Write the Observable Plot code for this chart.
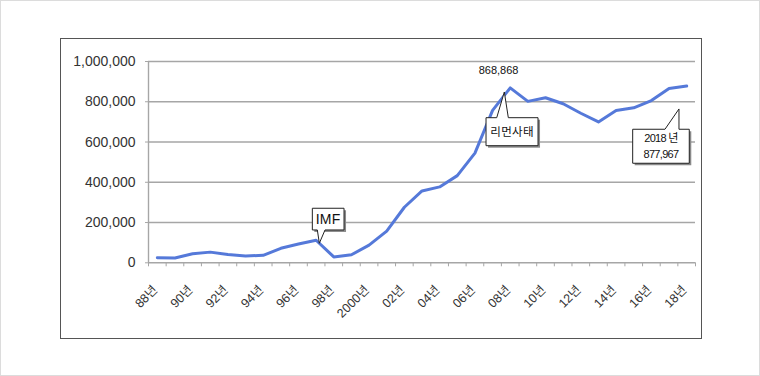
<!DOCTYPE html>
<html><head><meta charset="utf-8">
<script src="https://cdn.jsdelivr.net/npm/d3@7"></script>
<script src="https://cdn.jsdelivr.net/npm/@observablehq/plot@0.6"></script>
<style>
html,body{margin:0;padding:0;background:#fff;}
#wrap{position:relative;width:760px;height:376px;overflow:hidden;background:#fff;}
#outer{position:absolute;left:0;top:0;width:758px;height:374px;border:1px solid #dcdcdc;pointer-events:none;}
#inner{position:absolute;left:60px;top:38px;width:640px;height:299px;border:1.5px solid #555;pointer-events:none;}
#chart svg{display:block;}
</style></head><body>
<div id="wrap"><div id="chart"></div><div id="outer"></div><div id="inner"></div></div>
<script>
// ---- data ----
const years = [1988,1989,1990,1991,1992,1993,1994,1995,1996,1997,1998,1999,2000,2001,2002,2003,2004,2005,2006,2007,2008,2009,2010,2011,2012,2013,2014,2015,2016,2017,2018];
const values = [25000,24000,45000,53000,41000,34000,37000,72000,93000,112000,29000,40000,88000,157000,276000,357000,377000,433000,545000,757000,868868,802000,820000,790000,743000,700000,757000,770000,806000,866000,877967];
const labelYears = [1988,1990,1992,1994,1996,1998,2000,2002,2004,2006,2008,2010,2012,2014,2016,2018];
const labelTexts = ["88년","90년","92년","94년","96년","98년","2000년","02년","04년","06년","08년","10년","12년","14년","16년","18년"];
const yTicks = [0,200000,400000,600000,800000,1000000];
const peakYear = 2008;
const peakText = "868,868";
const calloutYears = [1997, 2008, 2018];
const calloutTexts = [["IMF"], ["리먼사태"], ["2018 년", "877,967"]];

const data = years.map((y, i) => ({year: y, value: values[i]}));
const boundaries = d3.range(years.length + 1).map(i => years[0] - 0.5 + i);

const FONT = "'Liberation Sans','Noto Sans CJK KR',sans-serif";
const GRID = "#a6a6a6";

const plot = Plot.plot({
  width: 760, height: 376,
  marginLeft: 148, marginRight: 65, marginTop: 61, marginBottom: 113.7,
  style: {fontFamily: FONT, background: "transparent", overflow: "visible"},
  x: {type: "linear", domain: [years[0] - 0.5, years[years.length - 1] + 0.5], axis: null},
  y: {domain: [0, 1000000], axis: null},
  marks: [
    Plot.gridY(yTicks, {stroke: GRID, strokeOpacity: 1, strokeWidth: 1.4}),
    Plot.ruleX([years[0] - 0.5], {stroke: GRID, strokeWidth: 1.4}),
    Plot.axisY(yTicks, {label: null, tickSize: 3, tickPadding: 10, tickFormat: d3.format(","), fontSize: 14, stroke: GRID, fill: "#333"}),
    Plot.axisX(boundaries, {label: null, tickSize: 4, tickFormat: () => "", stroke: GRID}),
    Plot.axisX(labelYears, {label: null, tickSize: 0, tickPadding: 25, tickRotate: -45, fontSize: 12.5, fill: "#333", dx: -2,
      tickFormat: d => labelTexts[labelYears.indexOf(d)]}),
    Plot.line(data, {x: "year", y: "value", stroke: "#5579d9", strokeWidth: 3, strokeLinejoin: "round", curve: "linear"}),
    Plot.text(data.filter(d => d.year === peakYear), {x: "year", y: "value", text: () => peakText,
      dx: -11.7, dy: -17.4, fontSize: 11, fill: "#111", style: {letterSpacing: "0.4px"}})
  ]
});
document.getElementById("chart").appendChild(plot);

// ---- callouts positioned via plot scales ----
const sx = plot.scale("x"), sy = plot.scale("y");
const geo = [
  {box: [-3.3, -31.5, 31.7, 21.7], tip: [3.7, 3.5], base: [1.7, 9.4], side: "bottom", fs: 14, lh: 0},
  {box: [-23.7, 30.3, 52, 28], tip: [-5.4, 4.6], base: [-13, -1.4], side: "top", fs: 11.5, lh: 0},
  {box: [-53.5, 43.7, 56.6, 34], tip: [-7.2, 23.4], base: [-21.2, -7.2], side: "top", fs: 11, lh: 16}
];
const svg = d3.select(plot);
const g = svg.append("g").attr("font-family", FONT);
calloutYears.forEach((yr, k) => {
  const v = values[years.indexOf(yr)];
  const ax = sx.apply(yr), ay = sy.apply(v);
  const c = geo[k];
  const L = ax + c.box[0], T = ay + c.box[1], R = L + c.box[2], B = T + c.box[3];
  const tx = ax + c.tip[0], ty = ay + c.tip[1];
  const b1 = ax + c.base[0], b2 = ax + c.base[1];
  g.append("rect").attr("x", L + 2).attr("y", T + 2).attr("width", R - L).attr("height", B - T).attr("fill", "#8a8a8a");
  let p;
  if (c.side === "bottom") {
    p = `M${L},${T}L${R},${T}L${R},${B}L${b2},${B}L${tx},${ty}L${b1},${B}L${L},${B}Z`;
  } else {
    p = `M${L},${T}L${b1},${T}L${tx},${ty}L${b2},${T}L${R},${T}L${R},${B}L${L},${B}Z`;
  }
  g.append("path").attr("d", p).attr("fill", "#fff").attr("stroke", "#222").attr("stroke-width", 1);
  const lines = calloutTexts[k];
  const cx = (L + R) / 2, cy = (T + B) / 2;
  lines.forEach((t, j) => {
    g.append("text").attr("x", cx).attr("y", cy + (j - (lines.length - 1) / 2) * c.lh)
      .attr("text-anchor", "middle").attr("dominant-baseline", "central")
      .attr("font-size", c.fs).attr("fill", "#111")
      .attr("letter-spacing", c.lh ? "-0.7px" : "0.3px")
      .text(t);
  });
});
</script>
</body></html>
